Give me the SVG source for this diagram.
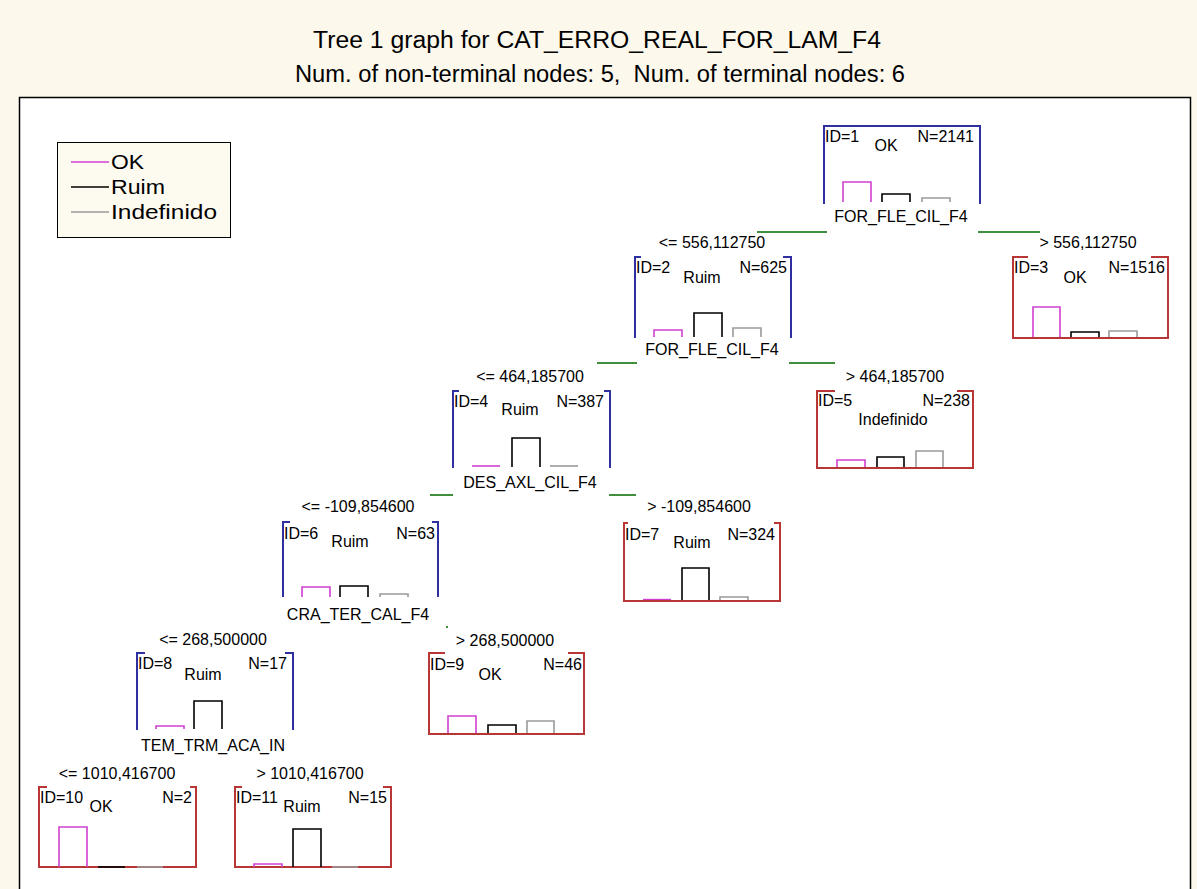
<svg xmlns="http://www.w3.org/2000/svg" width="1197" height="889" viewBox="0 0 1197 889">
<style>
text{font-family:"Liberation Sans",Arial,sans-serif;fill:#000}
.title{font-size:23px;text-anchor:middle}
.lg{font-size:21px}
.nt{font-size:16px}
.c{text-anchor:middle}
.e{text-anchor:end}
.fb{fill:none;stroke:#2f2fa0;stroke-width:2}
.fr{fill:none;stroke:#b83636;stroke-width:2}
.ok{fill:none;stroke:#d040d0;stroke-width:1.6}
.ru{fill:none;stroke:#000;stroke-width:1.6}
.in{fill:none;stroke:#9a9a9a;stroke-width:1.6}
.g{stroke:#3f8f3f;stroke-width:2;fill:none}
</style>
<rect x="0" y="0" width="1197" height="889" fill="#fcf8ec"/>
<text class="title" x="597" y="48" textLength="568" lengthAdjust="spacingAndGlyphs">Tree 1 graph for CAT_ERRO_REAL_FOR_LAM_F4</text>
<text class="title" x="600" y="82" textLength="610" lengthAdjust="spacingAndGlyphs" xml:space="preserve">Num. of non-terminal nodes: 5,  Num. of terminal nodes: 6</text>
<rect x="19.5" y="97.5" width="1171" height="800" fill="#fff" stroke="#000" stroke-width="1.5"/>
<g id="legend">
<rect x="57.5" y="142.5" width="173" height="95" fill="#fdfaf0" stroke="#000" stroke-width="1"/>
<line x1="71" y1="162" x2="109" y2="162" class="ok"/>
<line x1="71" y1="187" x2="109" y2="187" class="ru"/>
<line x1="71" y1="212" x2="109" y2="212" class="in"/>
<text class="lg" x="111" y="169" textLength="33" lengthAdjust="spacingAndGlyphs">OK</text>
<text class="lg" x="111" y="194" textLength="54" lengthAdjust="spacingAndGlyphs">Ruim</text>
<text class="lg" x="111" y="219" textLength="106" lengthAdjust="spacingAndGlyphs">Indefinido</text>
</g>
<g id="connectors">
<line class="g" x1="757" y1="232" x2="827" y2="232"/>
<line class="g" x1="978" y1="232" x2="1040" y2="232"/>
<line class="g" x1="597" y1="363" x2="637" y2="363"/>
<line class="g" x1="789" y1="363" x2="835" y2="363"/>
<line class="g" x1="430" y1="495" x2="453" y2="495"/>
<line class="g" x1="609" y1="495" x2="636" y2="495"/>
<line class="g" x1="446" y1="627" x2="448" y2="627"/>
</g>
<g id="node1">
<path class="fb" d="M824,204 V126 H980 V204"/>
<text class="nt" x="825" y="142">ID=1</text>
<text class="nt c" x="886" y="151">OK</text>
<text class="nt e" x="974" y="142">N=2141</text>
<path class="ok" d="M843,202 V182 H871 V202"/>
<path class="ru" d="M882,202 V194 H910 V202"/>
<path class="in" d="M922,202 V198 H950 V202"/>
<text class="nt c" x="901" y="222">FOR_FLE_CIL_F4</text>
</g>
<g id="node2">
<text class="nt c" x="712" y="248">&lt;= 556,112750</text>
<path class="fb" d="M641,257 H635 V338 M783,257 H791 V338"/>
<text class="nt" x="636" y="273">ID=2</text>
<text class="nt c" x="702" y="283">Ruim</text>
<text class="nt e" x="787" y="273">N=625</text>
<path class="ok" d="M654,337 V330 H682 V337"/>
<path class="ru" d="M694,337 V313 H722 V337"/>
<path class="in" d="M733,337 V328 H761 V337"/>
<text class="nt c" x="712" y="355">FOR_FLE_CIL_F4</text>
</g>
<g id="node3">
<text class="nt c" x="1088" y="248">&gt; 556,112750</text>
<path class="ok" d="M1033,338 V307 H1060 V338"/>
<path class="ru" d="M1071,338 V332 H1099 V338"/>
<path class="in" d="M1109,338 V331 H1137 V338"/>
<path class="fr" d="M1028,257 H1013 V338 H1168 V257 H1151"/>
<text class="nt" x="1014" y="273">ID=3</text>
<text class="nt c" x="1075" y="283">OK</text>
<text class="nt e" x="1165" y="273">N=1516</text>
</g>
<g id="node4">
<text class="nt c" x="530" y="382">&lt;= 464,185700</text>
<path class="fb" d="M459,391 H453 V468 M604,391 H610 V468"/>
<text class="nt" x="454" y="407">ID=4</text>
<text class="nt c" x="520" y="415">Ruim</text>
<text class="nt e" x="604" y="407">N=387</text>
<path class="ok" d="M472,466 H500"/>
<path class="ru" d="M512,467 V438 H540 V467"/>
<path class="in" d="M550,466 H578"/>
<text class="nt c" x="530" y="488">DES_AXL_CIL_F4</text>
</g>
<g id="node5">
<text class="nt c" x="895" y="382">&gt; 464,185700</text>
<path class="ok" d="M837,468 V460 H865 V468"/>
<path class="ru" d="M877,468 V457 H904 V468"/>
<path class="in" d="M916,468 V451 H943 V468"/>
<path class="fr" d="M835,391 H817 V468 H973 V391 H957"/>
<text class="nt" x="818" y="406">ID=5</text>
<text class="nt c" x="893" y="425">Indefinido</text>
<text class="nt e" x="970" y="406">N=238</text>
</g>
<g id="node6">
<text class="nt c" x="358" y="512">&lt;= -109,854600</text>
<path class="fb" d="M290,522 H283 V597 M432,522 H438 V597"/>
<text class="nt" x="284" y="539">ID=6</text>
<text class="nt c" x="350" y="547">Ruim</text>
<text class="nt e" x="435" y="539">N=63</text>
<path class="ok" d="M302,597 V587 H330 V597"/>
<path class="ru" d="M340,597 V586 H368 V597"/>
<path class="in" d="M380,597 V594 H408 V597"/>
<text class="nt c" x="358" y="620">CRA_TER_CAL_F4</text>
</g>
<g id="node7">
<text class="nt c" x="699" y="512">&gt; -109,854600</text>
<path class="ok" d="M643,600 H671" style="stroke-width:2.4"/>
<path class="ru" d="M682,601 V568 H709 V601"/>
<path class="in" d="M720,601 V597 H748 V601"/>
<path class="fr" d="M628,523 H624 V601 H780 V523 H774"/>
<text class="nt" x="625" y="540">ID=7</text>
<text class="nt c" x="692" y="548">Ruim</text>
<text class="nt e" x="775" y="540">N=324</text>
</g>
<g id="node8">
<text class="nt c" x="213" y="645">&lt;= 268,500000</text>
<path class="fb" d="M145,653 H137 V730 M285,653 H293 V730"/>
<text class="nt" x="138" y="669">ID=8</text>
<text class="nt c" x="203" y="680">Ruim</text>
<text class="nt e" x="287" y="669">N=17</text>
<path class="ok" d="M156,729 V726 H184 V729"/>
<path class="ru" d="M194,729 V701 H222 V729"/>
<text class="nt c" x="213" y="751">TEM_TRM_ACA_IN</text>
</g>
<g id="node9">
<text class="nt c" x="505" y="646">&gt; 268,500000</text>
<path class="ok" d="M448,734 V716 H476 V734"/>
<path class="ru" d="M488,734 V725 H516 V734"/>
<path class="in" d="M527,734 V721 H554 V734"/>
<path class="fr" d="M445,653 H429 V734 H584 V653 H568"/>
<text class="nt" x="430" y="670">ID=9</text>
<text class="nt c" x="490" y="680">OK</text>
<text class="nt e" x="582" y="670">N=46</text>
</g>
<g id="node10">
<text class="nt c" x="117" y="779">&lt;= 1010,416700</text>
<path class="fr" d="M47,787 H39 V867 H196 V787 H190"/>
<path class="ok" d="M59,867 V827 H87 V867"/>
<path class="ru" d="M98,867 H125"/>
<path class="in" d="M137,867 H163"/>
<text class="nt" x="40" y="803">ID=10</text>
<text class="nt c" x="101" y="812">OK</text>
<text class="nt e" x="192" y="803">N=2</text>
</g>
<g id="node11">
<text class="nt c" x="310" y="779">&gt; 1010,416700</text>
<path class="fr" d="M242,787 H235 V867 H391 V787 H383"/>
<path class="ok" d="M254,867 V864 H282 V867"/>
<path class="ru" d="M293,867 V829 H321 V867"/>
<path class="in" d="M332,867 H358"/>
<text class="nt" x="236" y="803">ID=11</text>
<text class="nt c" x="302" y="812">Ruim</text>
<text class="nt e" x="387" y="803">N=15</text>
</g>
</svg>
